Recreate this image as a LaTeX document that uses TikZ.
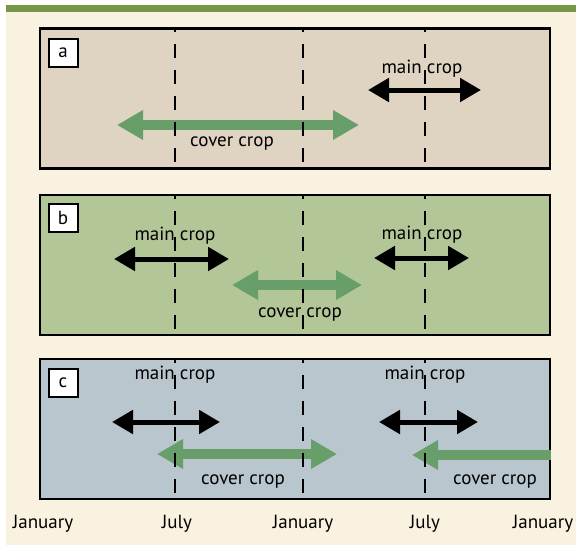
\documentclass[tikz,border=0pt]{standalone}
\usepackage{fontspec}
\setmainfont{PT Sans}
\usetikzlibrary{positioning, arrows.meta, calc}

\definecolor{topbar}{RGB}{118,150,72}
\definecolor{cream}{RGB}{250,242,225}
\definecolor{fieldA}{RGB}{223,211,194}
\definecolor{fieldB}{RGB}{178,198,151}
\definecolor{fieldC}{RGB}{185,198,205}
\definecolor{covergreen}{RGB}{104,158,106}

\begin{document}
\begin{tikzpicture}[x=1pt, y=-1pt,
                panel/.style={draw=black, line width=2.5pt, minimum width=510pt, minimum height=140pt, inner sep=0pt},
                tag/.style={draw=black, line width=2pt, fill=white, minimum width=29pt, minimum height=28pt, inner sep=0pt, font=\fontsize{19pt}{22pt}\selectfont},
                croplabel/.style={inner sep=0pt, yshift=-2pt, font=\fontsize{19pt}{22pt}\selectfont},
                month/.style={inner sep=0pt, yshift=-2pt, font=\fontsize{19pt}{22pt}\selectfont},
                season/.style={draw=black, line width=2.5pt, dash pattern=on 14pt off 12pt, dash phase=9pt},
                mainarrow/.style={draw=black, line width=5pt, {Triangle[length=21pt,width=23pt]}-{Triangle[length=21pt,width=23pt]}},
                coverarrow/.style={draw=covergreen, line width=10pt, {Triangle[length=26pt,width=28pt]}-{Triangle[length=26pt,width=28pt]}}
            ]
            \useasboundingbox (0,0) rectangle (576,547);

            % Hintergrund
            \fill[cream] (6,12) rectangle (576,545);
            \fill[topbar] (6,5) rectangle (576,12);

            % Felder
            \node[panel, fill=fieldA] (PA) at (295,98.5) {};
            \node[panel, fill=fieldB] (PB) at (295,265) {};
            \node[panel, fill=fieldC] (PC) at (295,429) {};

            \node[tag] (TA) at (63,53) {a};
            \node[tag] (TB) at (63,218) {b};
            \node[tag] (TC) at (63,383) {c};

            % Pfeile (a)
            \coordinate (A1) at (368,90);  \coordinate (A2) at (481,90);
            \coordinate (A3) at (117,125); \coordinate (A4) at (359,125);
            \draw[mainarrow] (A1) -- (A2);
            \draw[coverarrow] (A3) -- (A4);
            \node[croplabel] (MA) at (422,67) {main crop};
            \node[croplabel] (CA) at (232,142) {cover crop};

            % Pfeile (b)
            \coordinate (B1) at (114,259); \coordinate (B2) at (229,259);
            \coordinate (B3) at (374,258); \coordinate (B4) at (469,258);
            \coordinate (B5) at (232,285); \coordinate (B6) at (362,285);
            \draw[mainarrow] (B1) -- (B2);
            \draw[mainarrow] (B3) -- (B4);
            \draw[coverarrow] (B5) -- (B6);
            \node[croplabel] (MB1) at (175,234) {main crop};
            \node[croplabel] (MB2) at (422,233) {main crop};
            \node[croplabel] (CB) at (300,313) {cover crop};

            % Pfeile (c)
            \coordinate (C1) at (112,422); \coordinate (C2) at (220,422);
            \coordinate (C3) at (379,422); \coordinate (C4) at (478,422);
            \coordinate (C5) at (157,454); \coordinate (C6) at (337,454);
            \coordinate (C7) at (412,455); \coordinate (C8) at (PC.east |- C7);
            \draw[mainarrow] (C1) -- (C2);
            \draw[mainarrow] (C3) -- (C4);
            \draw[coverarrow] (C5) -- (C6);
            \draw[coverarrow, {Triangle[length=26pt,width=28pt]}-] (C7) -- (C8);
            \node[croplabel] (MC1) at (175,373) {main crop};
            \node[croplabel] (MC2) at (425,373) {main crop};
            \node[croplabel] (CC1) at (243,480) {cover crop};
            \node[croplabel] (CC2) at (495,480) {cover crop};

            % Monatslinien
            \foreach \p in {PA, PB, PC} {
                \foreach \mx in {175, 303, 425} {
                    \draw[season] (\mx,0 |- \p.north) -- (\mx,0 |- \p.south);
                }
            }

            % Monate
            \node[month] (M1) at (43,522) {January};
            \node[month] (M2) at (177,522) {July};
            \node[month] (M3) at (303,522) {January};
            \node[month] (M4) at (425,522) {July};
            \node[month] (M5) at (543,522) {January};

        \end{tikzpicture}
\end{document}
